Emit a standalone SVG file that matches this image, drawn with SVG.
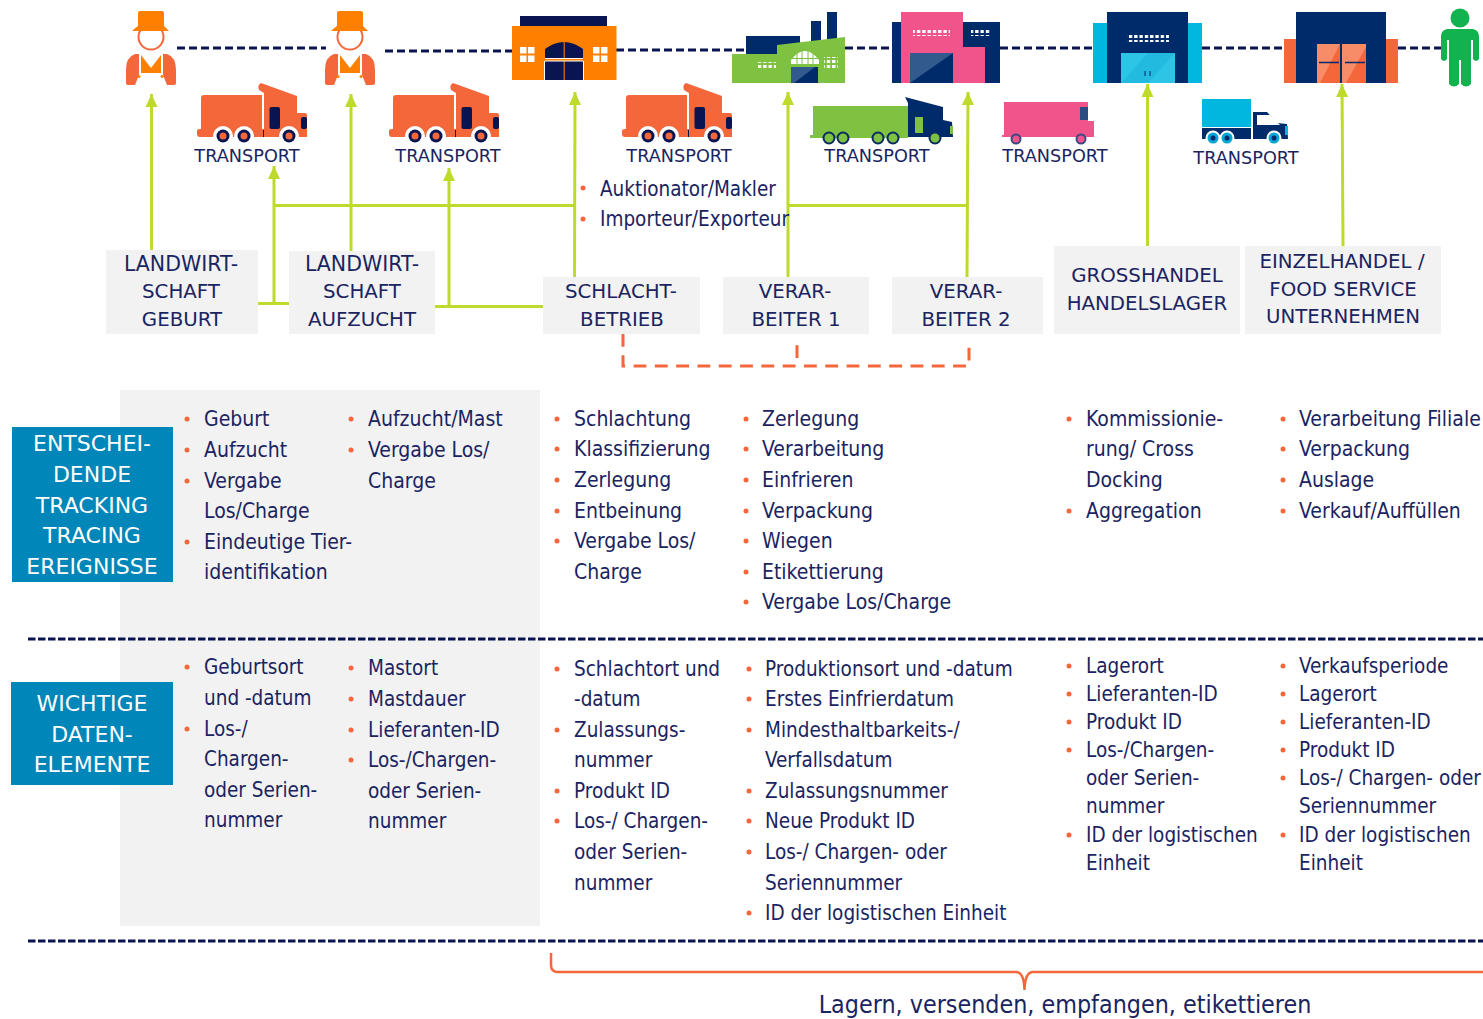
<svg xmlns="http://www.w3.org/2000/svg" width="1483" height="1019" viewBox="0 0 1483 1019">
<style>
text{font-family:"DejaVu Sans","Noto Sans",sans-serif;fill:#1a2461}
.b{font-family:"DejaVu Sans Condensed","DejaVu Sans",sans-serif;font-size:20.500px}
#list-ereignisse .b{font-size:21px}
.c{font-size:19.800px;text-anchor:middle}
.lw{font-size:20.500px}
.t{font-size:17.700px;text-anchor:middle}
.w{font-size:22px;text-anchor:middle;fill:#fff}
.gl{stroke:#bfd92d;stroke-width:3;fill:none}
.nd{stroke:#0a1450;stroke-width:3;stroke-dasharray:8 4;fill:none}
.sep{stroke:#0a1450;stroke-width:3;stroke-dasharray:7.500 2.500;fill:none}
.od{stroke:#f4673a;stroke-width:3;stroke-dasharray:12.800 8.500;fill:none}
.bg{fill:#f2f2f2}
.d{fill:#f4673a}
</style>
<defs>
<marker id="ah" markerUnits="userSpaceOnUse" markerWidth="14" markerHeight="14" refX="13" refY="7" orient="auto"><path d="M0 1L13 7L0 13Z" fill="#bfd92d"/></marker>
<g id="worker">
<circle cx="151" cy="37" r="12.500" fill="#fff" stroke="#f4673a" stroke-width="2"/>
<path d="M140 11H162Q164 11 164 13V26Q166 28 169 31H132Q135 28 138 26V13Q138 11 140 11Z" fill="#ff8000"/>
<path d="M139 54H135Q126 57 126 70V83Q126 85 129 85H135L139 75Z" fill="#f4673a"/>
<path d="M163 54H167Q176 57 176 70V83Q176 85 173 85H167L163 75Z" fill="#f4673a"/>
<path d="M141 55L151 68L161 55V73H141Z" fill="#ff8000"/>
<circle cx="139" cy="76.500" r="1.500" fill="#ff8000"/><circle cx="162" cy="76.500" r="1.500" fill="#ff8000"/>
</g>
<g id="truck">
<path d="M204 95H262V129H268V137H200Q197 137 197 134V131Q197 129 200 129H201V98Q201 95 204 95Z" fill="#f4673a"/>
<path d="M264 137V93L259 90Q257 85 261 83L297 96V113H305Q307 113 307 115V137Z" fill="#f4673a"/>
<rect x="269.500" y="107" width="10.500" height="22" rx="2" fill="#0a1450"/>
<rect x="301" y="117" width="6" height="12" rx="2" fill="#0a1450"/>
<rect x="263" y="130" width="1" height="7" fill="#0a1450"/>
<circle cx="223" cy="136" r="10" fill="#fff"/><circle cx="244" cy="136" r="10" fill="#fff"/><circle cx="289" cy="136" r="10" fill="#fff"/>
<circle cx="223" cy="136" r="6.500" fill="#0a1450"/><circle cx="244" cy="136" r="6.500" fill="#0a1450"/><circle cx="289" cy="136" r="6.500" fill="#0a1450"/>
<circle cx="223" cy="136" r="3.500" fill="#f4673a"/><circle cx="244" cy="136" r="3.500" fill="#f4673a"/><circle cx="289" cy="136" r="3.500" fill="#f4673a"/>
</g>
<pattern id="dots" width="5.300" height="5" patternUnits="userSpaceOnUse"><rect width="3.300" height="3" fill="#fff"/></pattern>
</defs>

<g id="connectors">
<path class="nd" d="M177 48H326"/><path class="nd" d="M385 51H512"/><path class="nd" d="M616 50H748"/><path class="nd" d="M845 48H892"/><path class="nd" d="M1000 48H1093"/><path class="nd" d="M1202 48H1284"/><path class="nd" d="M1398 48H1441"/>
<path class="gl" d="M151.500 250V94" marker-end="url(#ah)"/>
<path class="gl" d="M351 251V94" marker-end="url(#ah)"/>
<path class="gl" d="M574.500 278L575 92" marker-end="url(#ah)"/>
<path class="gl" d="M788 278V92" marker-end="url(#ah)"/>
<path class="gl" d="M967 278L968 92" marker-end="url(#ah)"/>
<path class="gl" d="M1147.500 246V84" marker-end="url(#ah)"/>
<path class="gl" d="M1343 246L1342 84" marker-end="url(#ah)"/>
<path class="gl" d="M274 303V166" marker-end="url(#ah)"/>
<path class="gl" d="M449 306V168" marker-end="url(#ah)"/>
<path class="gl" d="M274 205.500H575"/><path class="gl" d="M788 205.500H968"/>
<path class="gl" d="M258 303.500H290"/><path class="gl" d="M435 306.500H543"/>
<path class="od" d="M623 334V366H969V345"/>
<path class="od" d="M797 358V345"/>
</g>

<g id="worker1"><use href="#worker"/></g>
<g id="worker2"><use href="#worker" x="199"/></g>

<g id="truck1"><use href="#truck"/><text class="t" x="247" y="162">TRANSPORT</text></g>
<g id="truck2"><use href="#truck" x="192"/><text class="t" x="448" y="162">TRANSPORT</text></g>
<g id="truck3"><use href="#truck" x="425"/><text class="t" x="679" y="162">TRANSPORT</text></g>

<g id="truck4">
<rect x="810" y="135" width="98" height="3" fill="#7fc241"/><rect x="813" y="106" width="95" height="31" fill="#7fc241"/>
<path d="M908 137V103L905 97L943 107V120L952 122L953 137Z" fill="#002b6b"/>
<rect x="915" y="117" width="8" height="16" fill="#7fc241"/><rect x="950" y="126" width="3" height="8" fill="#7fc241"/>
<g fill="#7fc241" stroke="#0a2a60" stroke-width="2"><circle cx="829" cy="138" r="5.500"/><circle cx="843" cy="138" r="5.500"/><circle cx="878" cy="138" r="5.500"/><circle cx="893" cy="138" r="5.500"/><circle cx="935" cy="138" r="5.500"/></g>
<text class="t" x="877" y="162">TRANSPORT</text>
</g>
<g id="truck5">
<path d="M1004 102H1088V121H1094V137H1002V135H1004Z" fill="#f0548a"/>
<rect x="1080" y="107" width="8" height="13" fill="#2b4c80"/>
<g fill="#f0548a" stroke="#3a4a80" stroke-width="2"><circle cx="1016" cy="139" r="4.500"/><circle cx="1081" cy="139" r="4.500"/></g>
<text class="t" x="1055" y="162">TRANSPORT</text>
</g>
<g id="truck6">
<rect x="1202" y="99" width="49" height="28" fill="#00b7e0"/>
<rect x="1202" y="128" width="49" height="11" fill="#002b6b"/>
<path d="M1253 112H1267L1277 123L1287 124L1288 139H1253Z" fill="#002b6b"/>
<path d="M1257 115H1270L1280 125H1257Z" fill="#fff"/>
<rect x="1285" y="126" width="3" height="9" fill="#00b7e0"/>
<g fill="#00a6d6" stroke="#fff" stroke-width="2"><circle cx="1213" cy="138" r="6.500"/><circle cx="1227" cy="138" r="6.500"/><circle cx="1274" cy="138" r="6.500"/></g>
<g fill="#002b6b"><circle cx="1213" cy="138" r="2.500"/><circle cx="1227" cy="138" r="2.500"/><circle cx="1274" cy="138" r="2.500"/></g>
<text class="t" x="1246" y="164">TRANSPORT</text>
</g>

<g id="slaughterhouse-icon">
<rect x="520" y="16" width="87" height="11" fill="#0a1450"/>
<rect x="512" y="26" width="104.500" height="54" fill="#ff8000"/>
<path d="M545 58V49Q564 35 583 49V58Z" fill="#0a1450"/><rect x="545" y="61" width="38" height="19" fill="#0a1450"/>
<rect x="563.500" y="41" width="1.500" height="39" fill="#ff8000" opacity=".7"/>
<path d="M545 58.500H583M545 61H583" stroke="#fff" stroke-width="1"/>
<path d="M544.500 80V61M583.500 80V61" stroke="#fff" stroke-width="1"/>
<g fill="#fff"><rect x="520" y="47" width="6.500" height="6.500"/><rect x="528" y="47" width="6.500" height="6.500"/><rect x="520" y="55.500" width="6.500" height="6.500"/><rect x="528" y="55.500" width="6.500" height="6.500"/>
<rect x="593" y="47" width="6.500" height="6.500"/><rect x="601" y="47" width="6.500" height="6.500"/><rect x="593" y="55.500" width="6.500" height="6.500"/><rect x="601" y="55.500" width="6.500" height="6.500"/></g>
</g>
<g id="factory-green">
<rect x="811" y="21" width="10" height="24" fill="#002b6b"/><rect x="827" y="12" width="10" height="30" fill="#002b6b"/>
<rect x="746" y="36" width="54" height="18" fill="#002b6b"/>
<path d="M732 54H777V45L845 37V83H732Z" fill="#7fc241"/>
<path d="M791 64V60Q805 42 819 60V64Z" fill="#fff"/>
<path d="M791 58.500H819M797 50V64M802 50V64M808 50V64M813 50V64" stroke="#7fc241" stroke-width="1" fill="none"/>
<rect x="758" y="62" width="18" height="8" fill="url(#dots)"/><rect x="824" y="57" width="14" height="13" fill="url(#dots)"/>
<rect x="791" y="67" width="27" height="16" fill="#002b6b"/><path d="M791 67V83H794L815 67Z" fill="#335a8c"/>
</g>
<g id="factory-pink">
<rect x="892" y="22" width="108" height="61" fill="#002b6b"/>
<path d="M901 12H963V47H985V83H901Z" fill="#f0548a"/>
<rect x="910" y="53" width="43" height="30" fill="#002b6b"/><path d="M910 83V53H953Z" fill="#335a8c"/>
<rect x="913" y="28" width="37" height="8" fill="url(#dots)"/><rect x="971" y="28" width="20" height="8" fill="url(#dots)"/>
</g>
<g id="warehouse-blue">
<rect x="1093" y="23" width="109" height="60" fill="#00b7e0"/><rect x="1107" y="12" width="81" height="71" fill="#002b6b"/>
<rect x="1121" y="53" width="54" height="30" fill="#2dc4e6"/><path d="M1121 83L1148 53H1175L1148 83Z" fill="#1cb4da" opacity=".6"/>
<rect x="1127" y="33" width="42" height="9" fill="url(#dots)"/>
<path d="M1145 71V76M1150 71V76" stroke="#002b6b" stroke-width="1"/>
</g>
<g id="warehouse-orange">
<rect x="1284" y="39" width="114" height="44" fill="#f4673a"/><rect x="1296" y="12" width="90" height="71" fill="#002b6b"/>
<rect x="1317" y="44" width="49" height="39" fill="#f4673a"/>
<path d="M1317 83V44H1340L1320 83ZM1342 83V44H1366V47L1346 83Z" fill="#f78c68"/>
<rect x="1340" y="44" width="2" height="39" fill="#002b6b"/>
<path d="M1319 62.500H1339M1345 62.500H1365" stroke="#002b6b" stroke-width="1.500"/>
</g>
<g id="person">
<circle cx="1460" cy="18" r="9.500" fill="#12b24f"/>
<path d="M1447 29H1473Q1479 30 1479 37V59Q1476 63 1473 59V40H1471V84Q1466 89 1461 84V60H1459V84Q1454 89 1449 84V40H1447V59Q1444 63 1441 59V37Q1441 30 1447 29Z" fill="#12b24f"/>
</g>

<g id="n-landwirt-geburt"><rect class="bg" x="106" y="250" width="152" height="84"/><text class="c lw" x="181" y="271">LANDWIRT-</text><text class="c" x="181" y="298">SCHAFT</text><text class="c" x="182" y="326">GEBURT</text></g>
<g id="n-landwirt-aufzucht"><rect class="bg" x="289" y="251" width="146" height="83"/><text class="c lw" x="362" y="271">LANDWIRT-</text><text class="c" x="362" y="298">SCHAFT</text><text class="c" x="362" y="326">AUFZUCHT</text></g>
<g id="n-schlacht"><rect class="bg" x="543" y="277" width="157" height="57"/><text class="c" x="621" y="298">SCHLACHT-</text><text class="c" x="622" y="326">BETRIEB</text></g>
<g id="n-verarbeiter1"><rect class="bg" x="723" y="277" width="146" height="57"/><text class="c" x="795" y="298">VERAR-</text><text class="c" x="796" y="326">BEITER 1</text></g>
<g id="n-verarbeiter2"><rect class="bg" x="892" y="277" width="151" height="57"/><text class="c" x="966" y="298">VERAR-</text><text class="c" x="966" y="326">BEITER 2</text></g>
<g id="n-gross"><rect class="bg" x="1054" y="246" width="186" height="88"/><text class="c" x="1147" y="282">GROSSHANDEL</text><text class="c" x="1147" y="310">HANDELSLAGER</text></g>
<g id="n-einzel"><rect class="bg" x="1245" y="246" width="196" height="88"/><text class="c" x="1342" y="268">EINZELHANDEL /</text><text class="c" x="1343" y="296">FOOD SERVICE</text><text class="c" x="1343" y="323">UNTERNEHMEN</text></g>

<g id="auktionator">
<circle class="d" cx="583" cy="188" r="2.500"/><text class="b" x="600" y="196">Auktionator/Makler</text>
<circle class="d" cx="583" cy="219" r="2.500"/><text class="b" x="600" y="226">Importeur/Exporteur</text>
</g>

<rect id="panel" class="bg" x="120" y="390" width="420" height="536"/>

<g id="n-ereignisse"><rect x="12" y="427" width="161" height="155" fill="#0086b8"/>
<text class="w" x="92" y="451">ENTSCHEI-</text><text class="w" x="92" y="482">DENDE</text><text class="w" x="92" y="513">TRACKING</text><text class="w" x="92" y="543">TRACING</text><text class="w" x="92" y="574">EREIGNISSE</text></g>
<g id="n-daten"><rect x="11" y="682" width="162" height="103" fill="#0086b8"/>
<text class="w" x="92" y="711">WICHTIGE</text><text class="w" x="92" y="742">DATEN-</text><text class="w" x="92" y="772">ELEMENTE</text></g>

<g id="list-ereignisse">
<circle class="d" cx="187" cy="419" r="2.500"/><text class="b" x="204" y="426">Geburt</text>
<circle class="d" cx="187" cy="450" r="2.500"/><text class="b" x="204" y="457">Aufzucht</text>
<circle class="d" cx="187" cy="481" r="2.500"/><text class="b" x="204" y="488">Vergabe</text>
<text class="b" x="204" y="518">Los/Charge</text>
<circle class="d" cx="187" cy="542" r="2.500"/><text class="b" x="204" y="549">Eindeutige Tier-</text>
<text class="b" x="204" y="579">identifikation</text>
<circle class="d" cx="351" cy="419" r="2.500"/><text class="b" x="368" y="426">Aufzucht/Mast</text>
<circle class="d" cx="351" cy="450" r="2.500"/><text class="b" x="368" y="457">Vergabe Los/</text>
<text class="b" x="368" y="488">Charge</text>
<circle class="d" cx="557" cy="419" r="2.500"/><text class="b" x="574" y="426">Schlachtung</text>
<circle class="d" cx="557" cy="449" r="2.500"/><text class="b" x="574" y="456">Klassifizierung</text>
<circle class="d" cx="557" cy="480" r="2.500"/><text class="b" x="574" y="487">Zerlegung</text>
<circle class="d" cx="557" cy="511" r="2.500"/><text class="b" x="574" y="518">Entbeinung</text>
<circle class="d" cx="557" cy="541" r="2.500"/><text class="b" x="574" y="548">Vergabe Los/</text>
<text class="b" x="574" y="579">Charge</text>
<circle class="d" cx="746" cy="419" r="2.500"/><text class="b" x="762" y="426">Zerlegung</text>
<circle class="d" cx="746" cy="449" r="2.500"/><text class="b" x="762" y="456">Verarbeitung</text>
<circle class="d" cx="746" cy="480" r="2.500"/><text class="b" x="762" y="487">Einfrieren</text>
<circle class="d" cx="746" cy="511" r="2.500"/><text class="b" x="762" y="518">Verpackung</text>
<circle class="d" cx="746" cy="541" r="2.500"/><text class="b" x="762" y="548">Wiegen</text>
<circle class="d" cx="746" cy="572" r="2.500"/><text class="b" x="762" y="579">Etikettierung</text>
<circle class="d" cx="746" cy="602" r="2.500"/><text class="b" x="762" y="609">Vergabe Los/Charge</text>
<circle class="d" cx="1069" cy="419" r="2.500"/><text class="b" x="1086" y="426">Kommissionie-</text>
<text class="b" x="1086" y="456">rung/ Cross</text>
<text class="b" x="1086" y="487">Docking</text>
<circle class="d" cx="1069" cy="511" r="2.500"/><text class="b" x="1086" y="518">Aggregation</text>
<circle class="d" cx="1283" cy="419" r="2.500"/><text class="b" x="1299" y="426">Verarbeitung Filiale</text>
<circle class="d" cx="1283" cy="449" r="2.500"/><text class="b" x="1299" y="456">Verpackung</text>
<circle class="d" cx="1283" cy="480" r="2.500"/><text class="b" x="1299" y="487">Auslage</text>
<circle class="d" cx="1283" cy="511" r="2.500"/><text class="b" x="1299" y="518">Verkauf/Auffüllen</text>
</g>

<path id="sep1" class="sep" d="M28 639H1483"/>
<path id="sep2" class="sep" d="M28 941H1483"/>

<g id="list-daten">
<circle class="d" cx="187" cy="667" r="2.500"/><text class="b" x="204" y="674">Geburtsort</text>
<text class="b" x="204" y="705">und -datum</text>
<circle class="d" cx="187" cy="729" r="2.500"/><text class="b" x="204" y="736">Los-/</text>
<text class="b" x="204" y="766">Chargen-</text>
<text class="b" x="204" y="797">oder Serien-</text>
<text class="b" x="204" y="827">nummer</text>
<circle class="d" cx="351" cy="668" r="2.500"/><text class="b" x="368" y="675">Mastort</text>
<circle class="d" cx="351" cy="699" r="2.500"/><text class="b" x="368" y="706">Mastdauer</text>
<circle class="d" cx="351" cy="730" r="2.500"/><text class="b" x="368" y="737">Lieferanten-ID</text>
<circle class="d" cx="351" cy="760" r="2.500"/><text class="b" x="368" y="767">Los-/Chargen-</text>
<text class="b" x="368" y="798">oder Serien-</text>
<text class="b" x="368" y="828">nummer</text>
<circle class="d" cx="557" cy="669" r="2.500"/><text class="b" x="574" y="676">Schlachtort und</text>
<text class="b" x="574" y="706">-datum</text>
<circle class="d" cx="557" cy="730" r="2.500"/><text class="b" x="574" y="737">Zulassungs-</text>
<text class="b" x="574" y="767">nummer</text>
<circle class="d" cx="557" cy="791" r="2.500"/><text class="b" x="574" y="798">Produkt ID</text>
<circle class="d" cx="557" cy="821" r="2.500"/><text class="b" x="574" y="828">Los-/ Chargen-</text>
<text class="b" x="574" y="859">oder Serien-</text>
<text class="b" x="574" y="890">nummer</text>
<circle class="d" cx="749" cy="669" r="2.500"/><text class="b" x="765" y="676">Produktionsort und -datum</text>
<circle class="d" cx="749" cy="699" r="2.500"/><text class="b" x="765" y="706">Erstes Einfrierdatum</text>
<circle class="d" cx="749" cy="730" r="2.500"/><text class="b" x="765" y="737">Mindesthaltbarkeits-/</text>
<text class="b" x="765" y="767">Verfallsdatum</text>
<circle class="d" cx="749" cy="791" r="2.500"/><text class="b" x="765" y="798">Zulassungsnummer</text>
<circle class="d" cx="749" cy="821" r="2.500"/><text class="b" x="765" y="828">Neue Produkt ID</text>
<circle class="d" cx="749" cy="852" r="2.500"/><text class="b" x="765" y="859">Los-/ Chargen- oder</text>
<text class="b" x="765" y="890">Seriennummer</text>
<circle class="d" cx="749" cy="913" r="2.500"/><text class="b" x="765" y="920">ID der logistischen Einheit</text>
<circle class="d" cx="1069" cy="666" r="2.500"/><text class="b" x="1086" y="673">Lagerort</text>
<circle class="d" cx="1069" cy="694" r="2.500"/><text class="b" x="1086" y="701">Lieferanten-ID</text>
<circle class="d" cx="1069" cy="722" r="2.500"/><text class="b" x="1086" y="729">Produkt ID</text>
<circle class="d" cx="1069" cy="750" r="2.500"/><text class="b" x="1086" y="757">Los-/Chargen-</text>
<text class="b" x="1086" y="785">oder Serien-</text>
<text class="b" x="1086" y="813">nummer</text>
<circle class="d" cx="1069" cy="835" r="2.500"/><text class="b" x="1086" y="842">ID der logistischen</text>
<text class="b" x="1086" y="870">Einheit</text>
<circle class="d" cx="1283" cy="666" r="2.500"/><text class="b" x="1299" y="673">Verkaufsperiode</text>
<circle class="d" cx="1283" cy="694" r="2.500"/><text class="b" x="1299" y="701">Lagerort</text>
<circle class="d" cx="1283" cy="722" r="2.500"/><text class="b" x="1299" y="729">Lieferanten-ID</text>
<circle class="d" cx="1283" cy="750" r="2.500"/><text class="b" x="1299" y="757">Produkt ID</text>
<circle class="d" cx="1283" cy="778" r="2.500"/><text class="b" x="1299" y="785">Los-/ Chargen- oder</text>
<text class="b" x="1299" y="813">Seriennummer</text>
<circle class="d" cx="1283" cy="835" r="2.500"/><text class="b" x="1299" y="842">ID der logistischen</text>
<text class="b" x="1299" y="870">Einheit</text>
</g>

<g id="brace">
<path d="M551 953V965Q551 972 558 972H1016Q1024 972 1024.500 990Q1025 972 1033 972H1483" fill="none" stroke="#f4673a" stroke-width="2.500"/>
<text class="b" x="1065" y="1013" style="font-size:24.800px;text-anchor:middle">Lagern, versenden, empfangen, etikettieren</text>
</g>
</svg>
